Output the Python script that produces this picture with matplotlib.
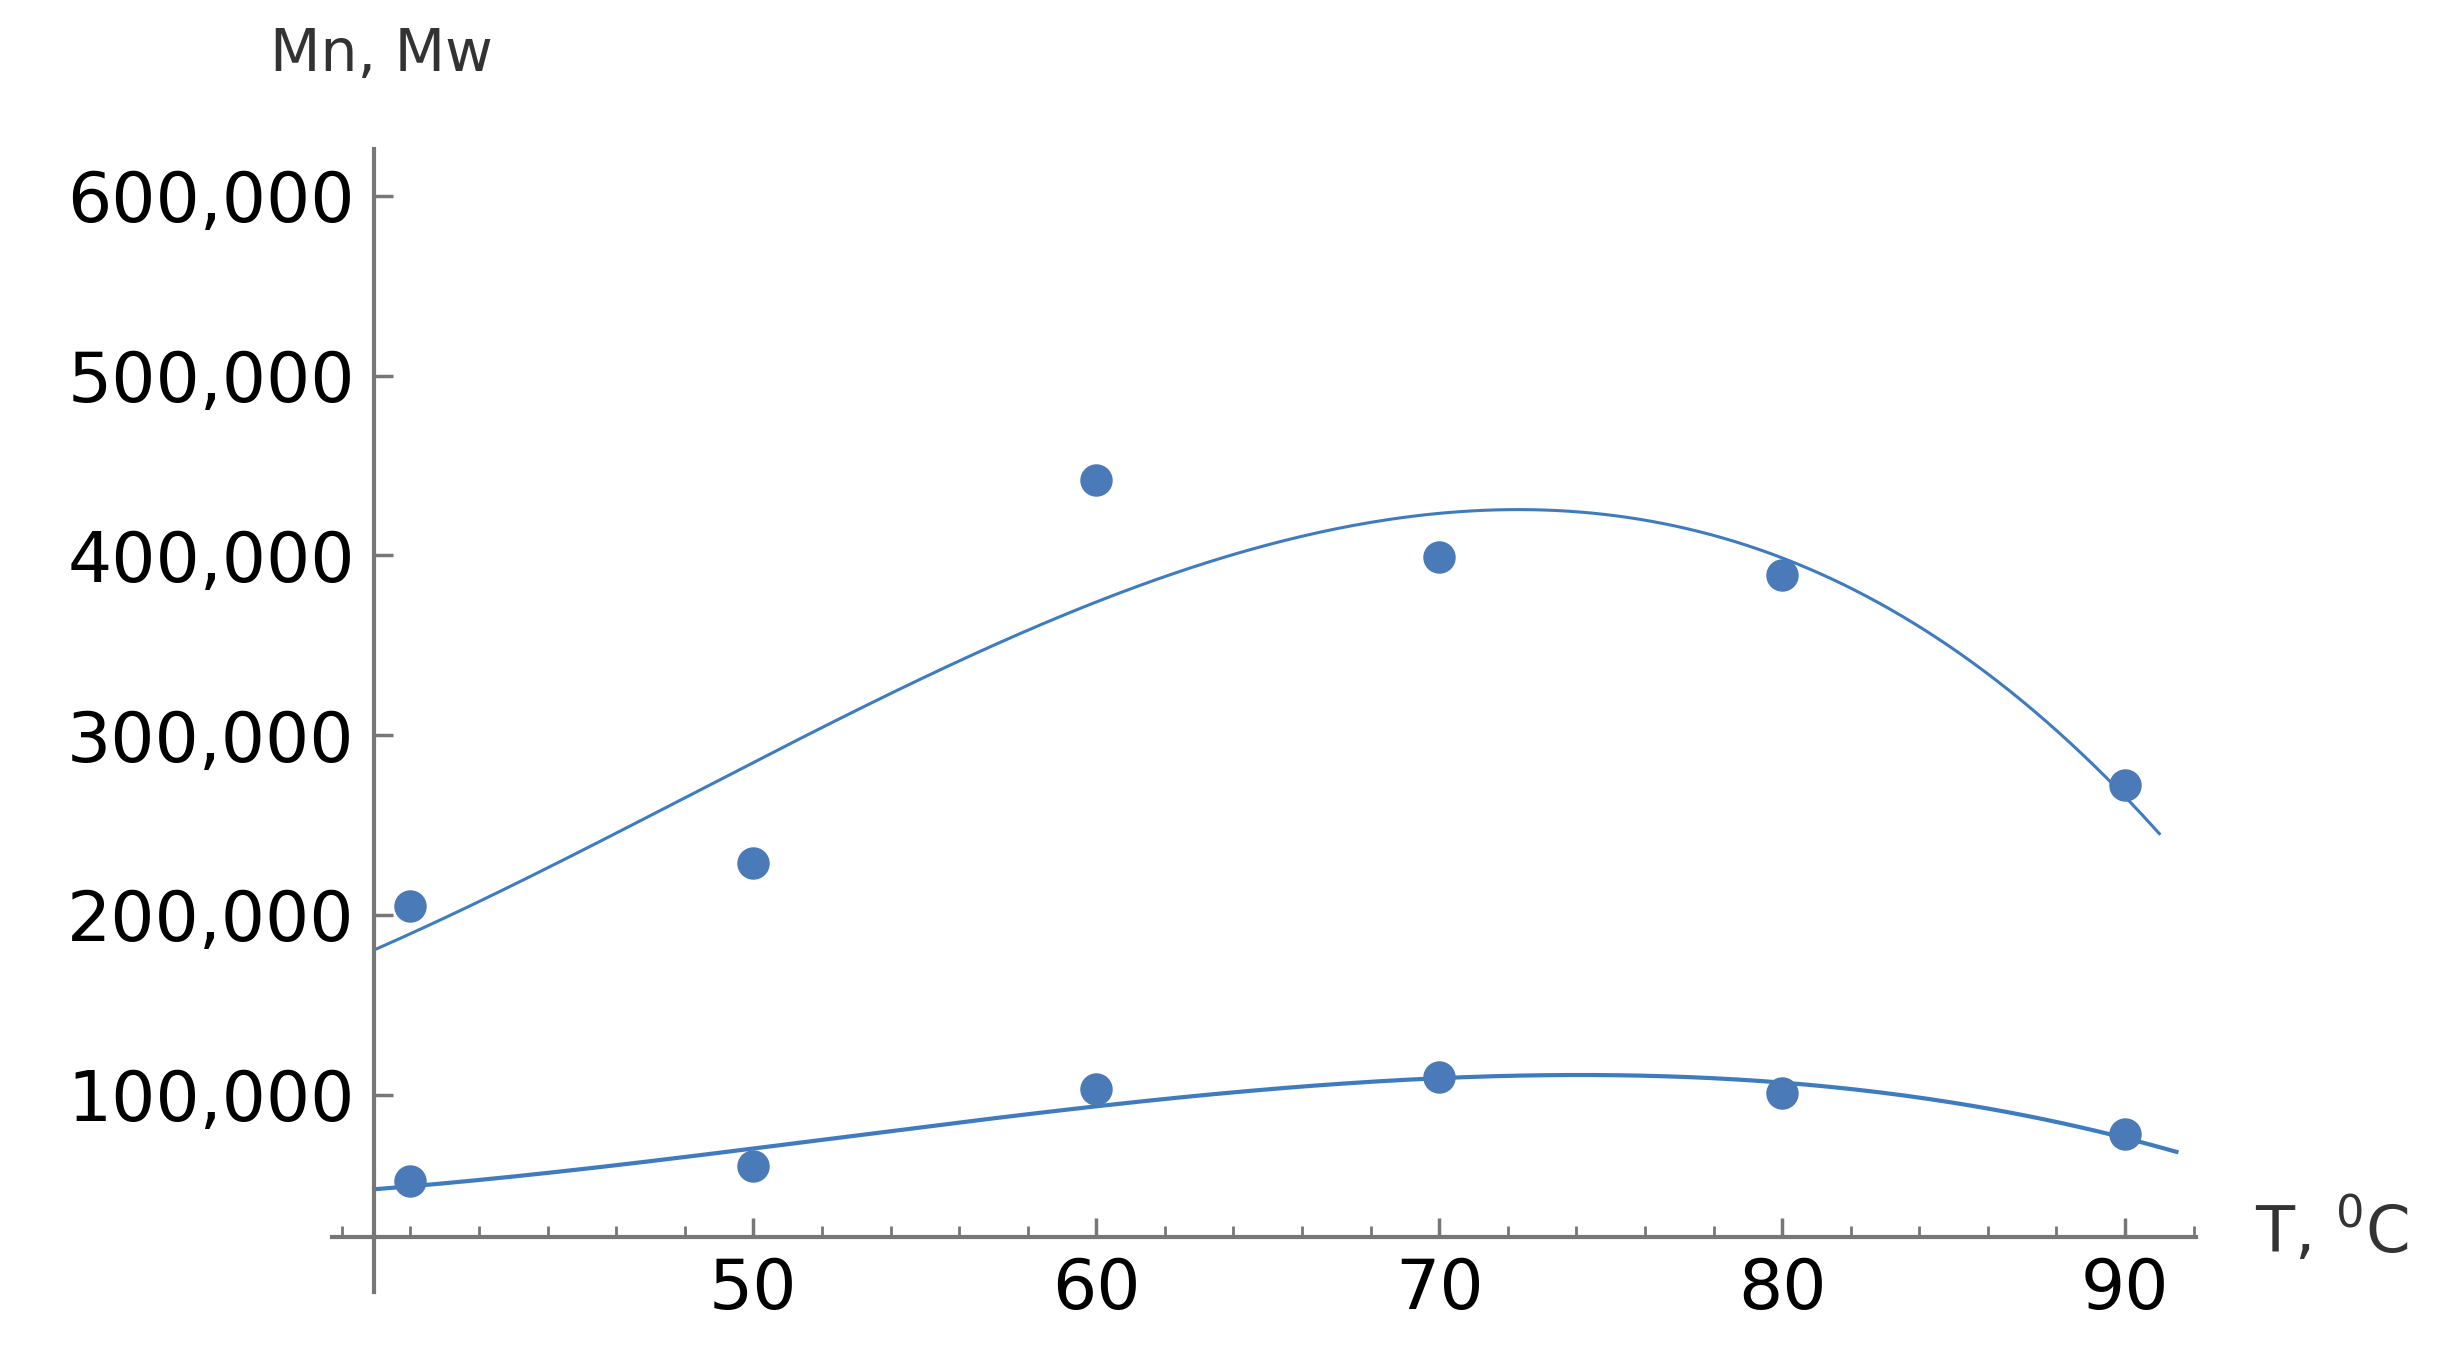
import numpy as np
import matplotlib
matplotlib.use("Agg")
import matplotlib.pyplot as plt
from matplotlib.ticker import MultipleLocator, FuncFormatter

temps = [40, 50, 60, 70, 80, 90]
mw = [205000, 229000, 442000, 399000, 389000, 272000]
mn = [52000, 60000, 103000, 110000, 101000, 78000]
x_ticks = [50, 60, 70, 80, 90]
y_ticks = [100000, 200000, 300000, 400000, 500000, 600000]

pt_color = "#4a7ab8"
line_color = "#3f7bbf"

fig = plt.figure(figsize=(24.56, 13.56), dpi=100)
ax = fig.add_axes([0.135, 0.047, 0.759, 0.843])
ax.set_xlim(37.7, 92.06)
ax.set_ylim(-10000, 626000)

xs = np.linspace(38.94, 91.0, 300)
xs2 = np.linspace(38.94, 91.5, 300)
p1 = np.polyfit(temps, mw, 3)
p2 = np.polyfit(temps, mn, 3)
ax.plot(xs, np.polyval(p1, xs), color=line_color, lw=2.2)
ax.plot(xs2, np.polyval(p2, xs2), color=line_color, lw=3)
ax.scatter(temps, mw, s=500, color=pt_color, zorder=3)
ax.scatter(temps, mn, s=500, color=pt_color, zorder=3)

for s in ["top", "right"]:
    ax.spines[s].set_visible(False)
ax.spines["left"].set_position(("data", 38.94))
ax.spines["bottom"].set_position(("data", 21000))
for s in ["left", "bottom"]:
    ax.spines[s].set_color("#777777")
    ax.spines[s].set_linewidth(3)

ax.set_xticks(x_ticks)
ax.xaxis.set_minor_locator(MultipleLocator(2))
ax.set_yticks(y_ticks)
ax.yaxis.set_major_formatter(FuncFormatter(lambda v, p: f"{int(v):,}"))
ax.tick_params(axis="both", which="major", direction="in", length=14, width=2.5,
               color="#777777", labelsize=50, pad=14)
ax.tick_params(axis="x", which="minor", direction="in", length=8, width=2, color="#777777")

fig.text(0.11, 0.96, "Mn, Mw", fontsize=42, color="#333333", va="center")
fig.text(0.918, 0.092, r"T, $^{\mathrm{0}}$C", fontsize=46, color="#333333", va="center")

fig.savefig("out.png", dpi=100)
